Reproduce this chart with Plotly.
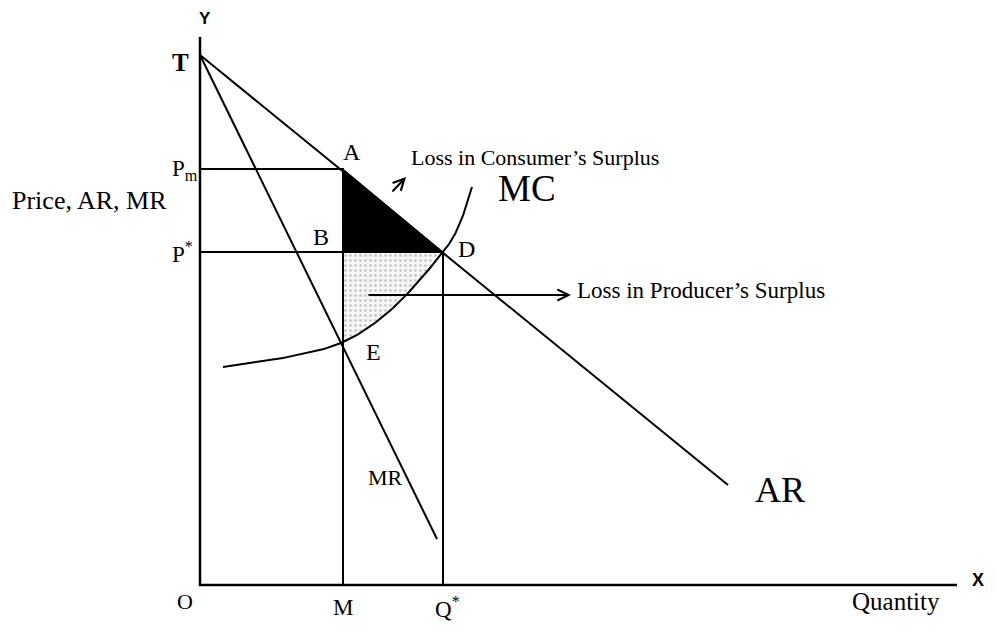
import numpy as np
import plotly.graph_objects as go

# ---- Data (diagram units: origin at O) ----
T_price = 530          # intercept of AR and MR
Pm = 416               # monopoly price
P_star = 333           # competitive price
Q_M = 143              # monopoly output M
Q_star = 243           # competitive output Q*
E_price = 243          # MC at M

AR_x = [0, 528]
AR_y = [530, 100]
MR_x = [0, 237]
MR_y = [530, 46]
MC_x = [23, 83, 143, 193, 243, 260, 272]
MC_y = [218, 227, 243, 277, 333, 362, 398]

X_END = 757
Y_END = 548


def catmull(xs, ys, n=20):
    P = np.column_stack([xs, ys]).astype(float)
    P = np.vstack([2 * P[0] - P[1], P, 2 * P[-1] - P[-2]])
    out = []
    for i in range(1, len(P) - 2):
        p0, p1, p2, p3 = P[i - 1], P[i], P[i + 1], P[i + 2]
        for t in np.linspace(0, 1, n, endpoint=False):
            t2, t3 = t * t, t * t * t
            pt = 0.5 * ((2 * p1) + (-p0 + p2) * t + (2 * p0 - 5 * p1 + 4 * p2 - p3) * t2 + (-p0 + 3 * p1 - 3 * p2 + p3) * t3)
            out.append(pt)
    out.append(P[-2])
    out = np.array(out)
    return out[:, 0], out[:, 1]


mcx, mcy = catmull(MC_x, MC_y)

fig = go.Figure()
LINE = dict(color="black", width=2)

# producer surplus loss (stippled region B-D-E)
mask = (mcx >= Q_M - 1e-6) & (mcx <= Q_star + 1e-6)
px_ = list(mcx[mask])
py_ = list(mcy[mask])
reg_x = [Q_M, Q_star] + px_[::-1] + [Q_M]
reg_y = [P_star, P_star] + py_[::-1] + [P_star]
fig.add_trace(go.Scatter(x=reg_x, y=reg_y, mode="lines", fill="toself",
                         line=dict(width=0, color="rgba(0,0,0,0)"),
                         fillcolor="#f4f4f4",
                         fillpattern=dict(shape=".", fgcolor="#909090", bgcolor="#f6f6f6",
                                          size=5, solidity=0.22),
                         hoverinfo="skip", showlegend=False))

# consumer surplus loss (black triangle A-B-D)
fig.add_trace(go.Scatter(x=[Q_M, Q_M, Q_star, Q_M], y=[Pm, P_star, P_star, Pm],
                         mode="lines", fill="toself", fillcolor="black",
                         line=dict(color="black", width=1), hoverinfo="skip", showlegend=False))

# axes
fig.add_trace(go.Scatter(x=[0, 0, X_END], y=[Y_END, 0, 0], mode="lines",
                         line=dict(color="black", width=2.5), hoverinfo="skip", showlegend=False))
# guide lines
fig.add_trace(go.Scatter(x=[0, Q_M, Q_M], y=[Pm, Pm, 0], mode="lines", line=LINE,
                         hoverinfo="skip", showlegend=False))
fig.add_trace(go.Scatter(x=[0, Q_star, Q_star], y=[P_star, P_star, 0], mode="lines", line=LINE,
                         hoverinfo="skip", showlegend=False))
# AR, MR, MC
fig.add_trace(go.Scatter(x=AR_x, y=AR_y, mode="lines", line=LINE, hoverinfo="skip", showlegend=False))
fig.add_trace(go.Scatter(x=MR_x, y=MR_y, mode="lines", line=LINE, hoverinfo="skip", showlegend=False))
fig.add_trace(go.Scatter(x=mcx, y=mcy, mode="lines", line=LINE, hoverinfo="skip", showlegend=False))

SERIF = "Liberation Serif"
SANS = "Liberation Sans"


def label(x, y, text, size=20, family=SERIF, anchor="center", bold=False):
    if bold:
        text = "<b>" + text + "</b>"
    fig.add_annotation(x=x, y=y, text=text, showarrow=False, xanchor=anchor, yanchor="middle",
                       font=dict(family=family, size=size, color="black"))


label(5, 567, "Y", 17, SANS, bold=True)
label(-20, 523, "T", 25, SERIF, bold=True)
label(-15, 415, "P<sub>m</sub>", 23)
label(-18, 333, "P<sup>*</sup>", 23)
label(-111, 385, "Price, AR, MR", 26)
label(-15, -16, "O", 22)
label(Q_M, -22, "M", 23)
label(Q_star + 4, -22, "Q<sup>*</sup>", 23)
label(696, -16, "Quantity", 25)
label(778, 5, "X", 18, SANS, bold=True)
label(152, 433, "A", 24)
label(121, 348, "B", 24)
label(266, 336, "D", 24)
label(173, 233, "E", 24)
label(327, 397, "MC", 37)
label(580, 95, "AR", 36)
label(185, 108, "MR", 22)
label(209, 428, "Loss in Consumer’s Surplus", 22, anchor="left")
label(375, 295, "Loss in Producer’s Surplus", 23, anchor="left")

# arrows
fig.add_annotation(x=206, y=408, ax=191, ay=392, xref="x", yref="y", axref="x", ayref="y",
                   showarrow=True, arrowhead=5, arrowsize=1.1, arrowwidth=2, arrowcolor="black", text="")
fig.add_annotation(x=371, y=290, ax=167, ay=290, xref="x", yref="y", axref="x", ayref="y",
                   showarrow=True, arrowhead=5, arrowsize=1.1, arrowwidth=2, arrowcolor="black", text="")

# page body has an 8px margin: size the figure so the drawing lands on the reference pixels
fig.update_layout(width=988, height=627, margin=dict(l=0, r=0, t=0, b=0),
                  plot_bgcolor="white", paper_bgcolor="white", showlegend=False,
                  xaxis=dict(range=[-192, 796], visible=False, fixedrange=True),
                  yaxis=dict(range=[-50, 577], visible=False, fixedrange=True))

fig.write_html("out.html")
